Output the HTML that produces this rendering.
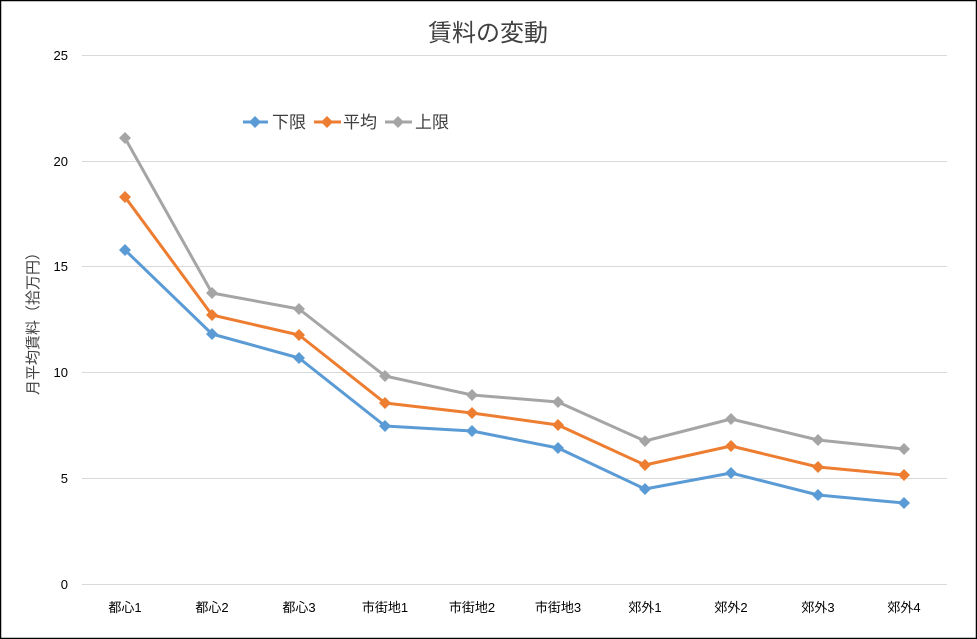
<!DOCTYPE html>
<html><head><meta charset="utf-8"><style>
html,body{margin:0;padding:0;background:#fff}
svg{display:block}
text{font-family:"Liberation Sans","Noto Sans CJK JP",sans-serif}
</style></head><body>
<svg width="977" height="639" viewBox="0 0 977 639" xmlns="http://www.w3.org/2000/svg">
<rect x="0.5" y="0.5" width="976" height="638" fill="#fff" stroke="#000" stroke-width="1.5"/>
<text x="488" y="41" font-size="24" text-anchor="middle" fill="#404040">賃料の変動</text>
<g stroke="#d9d9d9" stroke-width="1">
<line x1="82" x2="947" y1="55.5" y2="55.5"/>
<line x1="82" x2="947" y1="161.5" y2="161.5"/>
<line x1="82" x2="947" y1="266.5" y2="266.5"/>
<line x1="82" x2="947" y1="372.5" y2="372.5"/>
<line x1="82" x2="947" y1="478.5" y2="478.5"/>
<line x1="82" x2="947" y1="584.5" y2="584.5"/>
</g>
<g font-size="13" fill="#000" text-anchor="end">
<text x="68" y="60">25</text><text x="68" y="166">20</text><text x="68" y="271">15</text>
<text x="68" y="377">10</text><text x="68" y="483">5</text><text x="68" y="589">0</text>
</g>
<text transform="translate(38,320) rotate(-90)" font-size="15" text-anchor="middle" fill="#404040">月平均賃料（拾万円）</text>
<g font-size="13" fill="#000" text-anchor="middle">
<text x="125" y="612">都心1</text><text x="212" y="612">都心2</text><text x="299" y="612">都心3</text>
<text x="385" y="612">市街地1</text><text x="472" y="612">市街地2</text><text x="558" y="612">市街地3</text>
<text x="645" y="612">郊外1</text><text x="731" y="612">郊外2</text><text x="818" y="612">郊外3</text><text x="904" y="612">郊外4</text>
</g>
<defs><path id="d" d="M0,-6 L6,0 L0,6 L-6,0Z"/></defs>
<g fill="none" stroke-width="3" stroke-linejoin="round">
<polyline stroke="#a5a5a5" points="125,138 212,293 299,309 385,376 472,395 558,402 645,441 731,419 818,440 904,449"/>
<polyline stroke="#ed7d31" points="125,197 212,315 299,335 385,403 472,413 558,425 645,465 731,446 818,467 904,475"/>
<polyline stroke="#5b9bd5" points="125,250 212,334 299,358 385,426 472,431 558,448 645,489 731,473 818,495 904,503"/>
</g>
<g fill="#a5a5a5">
<use href="#d" x="125" y="138"/><use href="#d" x="212" y="293"/><use href="#d" x="299" y="309"/><use href="#d" x="385" y="376"/><use href="#d" x="472" y="395"/><use href="#d" x="558" y="402"/><use href="#d" x="645" y="441"/><use href="#d" x="731" y="419"/><use href="#d" x="818" y="440"/><use href="#d" x="904" y="449"/>
</g>
<g fill="#ed7d31">
<use href="#d" x="125" y="197"/><use href="#d" x="212" y="315"/><use href="#d" x="299" y="335"/><use href="#d" x="385" y="403"/><use href="#d" x="472" y="413"/><use href="#d" x="558" y="425"/><use href="#d" x="645" y="465"/><use href="#d" x="731" y="446"/><use href="#d" x="818" y="467"/><use href="#d" x="904" y="475"/>
</g>
<g fill="#5b9bd5">
<use href="#d" x="125" y="250"/><use href="#d" x="212" y="334"/><use href="#d" x="299" y="358"/><use href="#d" x="385" y="426"/><use href="#d" x="472" y="431"/><use href="#d" x="558" y="448"/><use href="#d" x="645" y="489"/><use href="#d" x="731" y="473"/><use href="#d" x="818" y="495"/><use href="#d" x="904" y="503"/>
</g>
<g stroke-width="3">
<line x1="243" x2="268" y1="122" y2="122" stroke="#5b9bd5"/>
<line x1="314" x2="341" y1="122" y2="122" stroke="#ed7d31"/>
<line x1="385" x2="412" y1="122" y2="122" stroke="#a5a5a5"/>
</g>
<use href="#d" x="255" y="122" fill="#5b9bd5"/>
<use href="#d" x="327" y="122" fill="#ed7d31"/>
<use href="#d" x="398" y="122" fill="#a5a5a5"/>
<g font-size="17" fill="#404040">
<text x="272" y="128">下限</text><text x="343" y="128">平均</text><text x="415" y="128">上限</text>
</g>
</svg>
</body></html>
